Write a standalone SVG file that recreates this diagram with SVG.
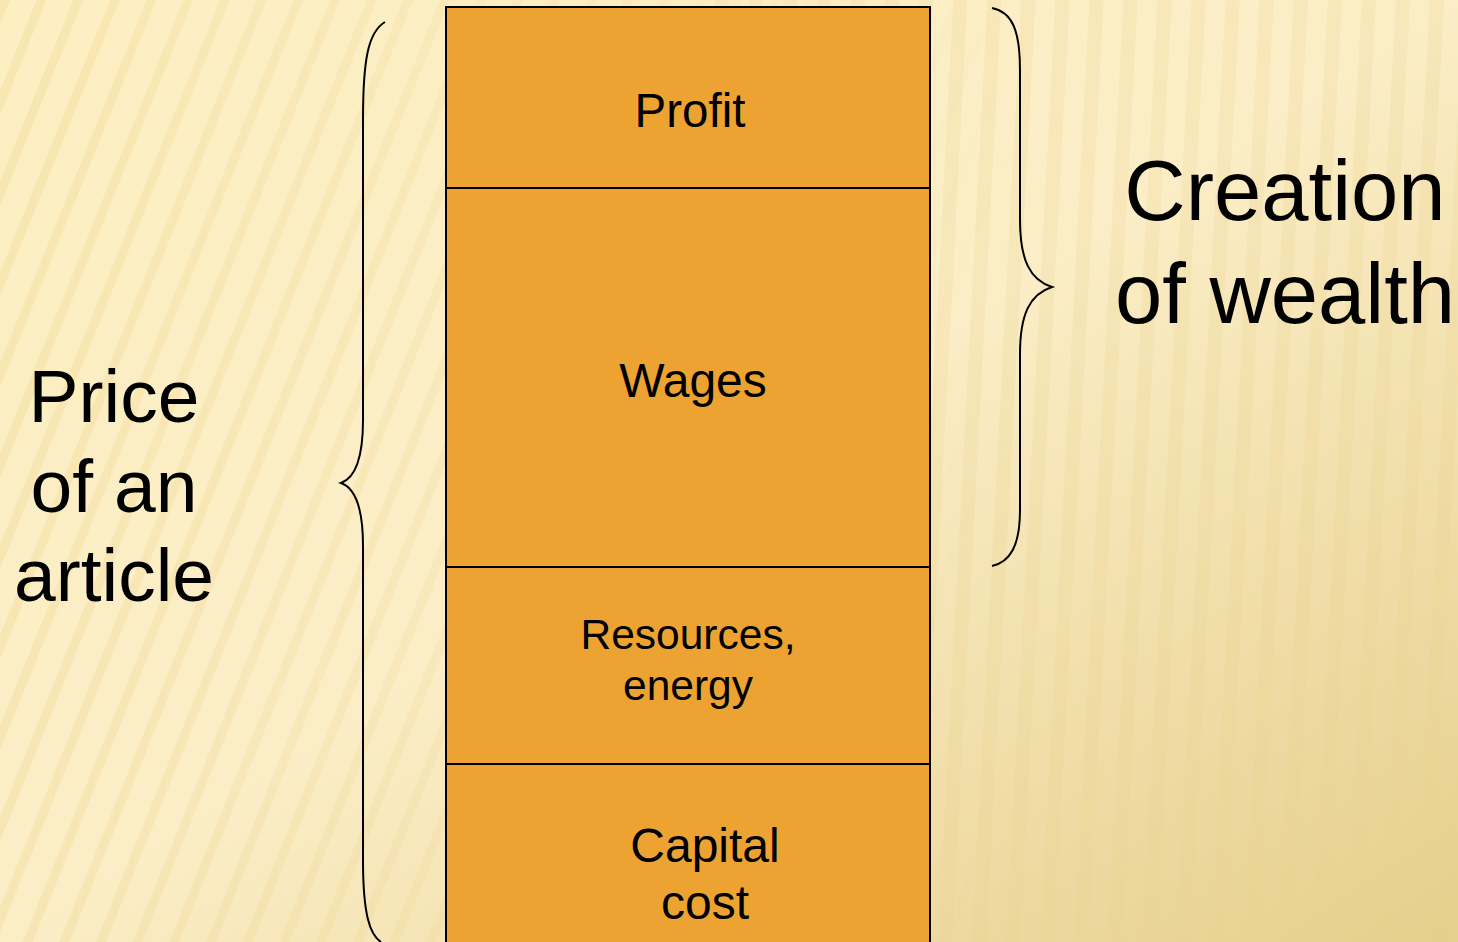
<svg xmlns="http://www.w3.org/2000/svg" width="1458" height="942" viewBox="0 0 1458 942">
<defs>
<linearGradient id="bg" x1="0" y1="0" x2="1" y2="1">
<stop offset="0" stop-color="#FDEFC2"/>
<stop offset="0.5" stop-color="#FBEDC6"/>
<stop offset="1" stop-color="#E6CF8C"/>
</linearGradient>
<pattern id="diag" width="34" height="34" patternUnits="userSpaceOnUse" patternTransform="rotate(22)">
<rect x="0" y="0" width="9" height="34" fill="#F0D48A" opacity="0.3"/>
</pattern>
<pattern id="vert" width="34" height="40" patternUnits="userSpaceOnUse" patternTransform="rotate(3)">
<rect x="0" y="0" width="14" height="40" fill="#E9D08C" opacity="0.22"/>
</pattern>
<linearGradient id="fadeL" x1="0" y1="0" x2="1" y2="0">
<stop offset="0" stop-color="#fff" stop-opacity="1"/>
<stop offset="0.45" stop-color="#fff" stop-opacity="0.4"/>
<stop offset="0.7" stop-color="#fff" stop-opacity="0"/>
</linearGradient>
<mask id="mL"><rect width="1458" height="942" fill="url(#fadeL)"/></mask>
<style>
.seg{fill:#EDA331;stroke:#000;stroke-width:2}
.t{font-family:"Liberation Sans",Arial,sans-serif;fill:#000;text-anchor:middle}
.brace{fill:none;stroke:#000;stroke-width:2}
</style>
</defs>
<rect width="1458" height="942" fill="url(#bg)"/>
<rect width="1458" height="942" fill="url(#diag)" mask="url(#mL)"/>
<rect x="700" width="758" height="942" fill="url(#vert)"/>

<g id="connectors">
<path class="brace" d="M385,22 C368,32 363,60 363,120 L363,420 C363,460 355,478 341,483 C355,488 363,506 363,546 L363,860 C363,915 370,935 381,942"/>
<path class="brace" d="M992,8 C1012,12 1020,30 1020,70 L1020,220 C1020,260 1030,280 1052,287 C1030,294 1020,314 1020,354 L1020,510 C1020,546 1010,562 992,566"/>
</g>

<g id="profit"><rect class="seg" x="446" y="7" width="484" height="181"/><text class="t" x="690" y="127" font-size="47.5">Profit</text></g>
<g id="wages"><rect class="seg" x="446" y="188" width="484" height="379"/><text class="t" x="693" y="397" font-size="48">Wages</text></g>
<g id="resources"><rect class="seg" x="446" y="567" width="484" height="197"/><text class="t" x="688" y="649" font-size="42.5">Resources,</text><text class="t" x="688" y="700" font-size="42.5">energy</text></g>
<g id="capital"><rect class="seg" x="446" y="764" width="484" height="190"/><text class="t" x="705" y="862" font-size="48">Capital</text><text class="t" x="705" y="919" font-size="48">cost</text></g>

<g id="price"><text class="t" x="114" y="422" font-size="75">Price</text><text class="t" x="114" y="512" font-size="75">of an</text><text class="t" x="114" y="601" font-size="75">article</text></g>
<g id="creation"><text class="t" x="1285" y="220" font-size="85">Creation</text><text class="t" x="1285" y="323" font-size="85">of wealth</text></g>
</svg>
